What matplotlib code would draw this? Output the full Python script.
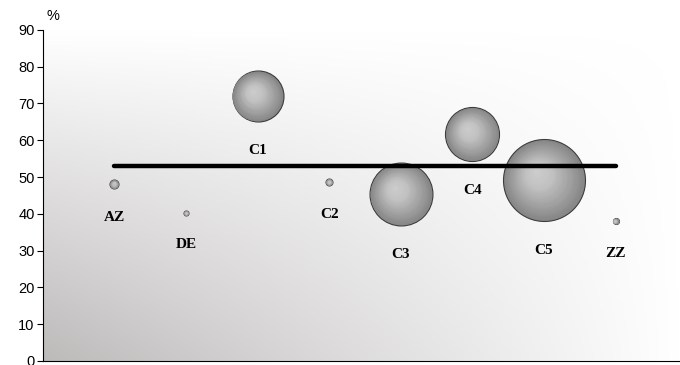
import numpy as np
import matplotlib
matplotlib.use('Agg')
import matplotlib.pyplot as plt
from matplotlib.colors import LinearSegmentedColormap
from matplotlib.transforms import ScaledTranslation

# dati
etichette = ['AZ', 'DE', 'C1', 'C2', 'C3', 'C4', 'C5', 'ZZ']
valori = [48.1, 40.2, 72.0, 48.6, 45.4, 61.7, 49.2, 38.0]
dimensioni = [20, 6, 650, 12, 990, 730, 1680, 9]
media = 53

x = np.arange(1, len(etichette) + 1)

fig = plt.figure(figsize=(6.8, 3.65), dpi=100)
ax = fig.add_axes([0.063, 0.011, 0.937, 0.907])

# sfondo sfumato (grigio in basso a sinistra, bianco in alto e a destra)
u, v = np.meshgrid(np.linspace(0, 1, 200), np.linspace(0, 1, 200))
sfondo = (1 - u) * (1 - v)
cmap_bg = LinearSegmentedColormap.from_list('bg', ['#ffffff', '#bdbaba'])
ax.imshow(sfondo, cmap=cmap_bg, origin='lower', aspect='auto',
          extent=[0, 8.9, 0, 90], zorder=0, vmin=0, vmax=1)

# bolle con effetto sferico
px2pt = 72 / fig.dpi
raggi = np.sqrt(dimensioni)  # raggio in pixel
livelli = 40
cmap_b = LinearSegmentedColormap.from_list('b', ['#858585', '#a4a4a4', '#c2c2c2', '#cdcdcd'])
for i in range(len(etichette)):
    r = raggi[i] * px2pt
    ax.scatter(x[i], valori[i], s=(2 * r) ** 2, color='#858585',
               edgecolors='#3c3c3c', linewidths=0.8, zorder=3)
    for k in range(1, livelli):
        f = 1 - k / livelli
        rr = r * f
        off = (1 - f) * 0.2 * r
        ax.scatter([x[i]], [valori[i]], s=(2 * rr) ** 2, color=cmap_b(k / livelli),
                   linewidths=0, zorder=3,
                   transform=ax.transData + ScaledTranslation(
                       -off / 72, off / 72, fig.dpi_scale_trans))
    ax.annotate(etichette[i], (x[i], valori[i]), xytext=(0, -(r + 21)),
                textcoords='offset points', ha='center', va='center',
                family='Liberation Serif', fontweight='bold', fontsize=11, zorder=5)

# linea media
ax.plot([x[0], x[-1]], [media, media], color='black', lw=3.2,
        solid_capstyle='round', zorder=4)

ax.set_xlim(0, 8.9)
ax.set_ylim(0, 90)
ax.set_yticks(range(0, 91, 10))
ax.set_xticks([])
ax.tick_params(axis='y', labelsize=10.5, length=4, width=0.8, pad=2)
for t in ax.get_yticklabels():
    t.set_family('Liberation Sans')
ax.spines['top'].set_visible(False)
ax.spines['right'].set_visible(False)
ax.text(0.005, 92, '%', ha='left', va='bottom', fontsize=10.5,
        family='Liberation Sans', transform=ax.get_yaxis_transform(),
        clip_on=False)

fig.savefig('out.png', dpi=100)
